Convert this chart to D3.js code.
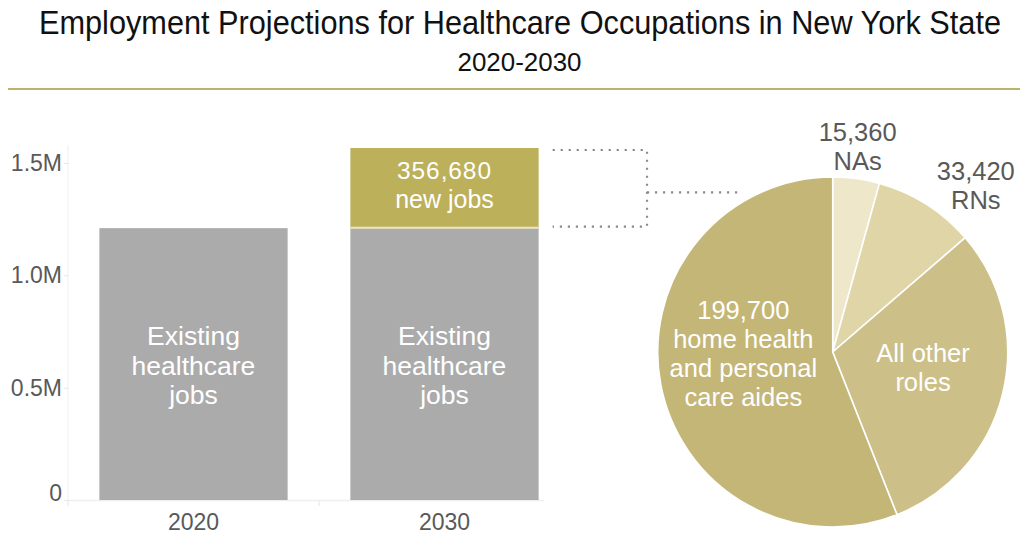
<!DOCTYPE html>
<html>
<head>
<meta charset="utf-8">
<script src="https://cdn.jsdelivr.net/npm/d3@7"></script>
<style>
  html, body { margin: 0; padding: 0; background: #fff; }
  svg { display: block; font-family: "Liberation Sans", Arial, sans-serif; }
</style>
</head>
<body>
<svg id="chart" width="1028" height="535"></svg>
<script>
// ---- Data ----
const years = ["2020", "2030"];
const existingJobs = [1210000, 1210000];
const newJobs = [0, 356680];
const yTicks = [0, 500000, 1000000, 1500000];
const yTickLabels = ["0", "0.5M", "1.0M", "1.5M"];

const roles = ["NAs", "RNs", "All other roles", "home health and personal care aides"];
const roleJobs = [15360, 33420, 108200, 199700];
const roleColors = ["#eee7c9", "#dfd5a6", "#ccbf88", "#c4b677"];

// ---- Layout ----
const svg = d3.select("#chart");
const grayText = "#595959";

// Title block (slightly condensed lettering: tall glyphs, fixed width)
svg.append("g").attr("transform", "translate(520,34) scale(1,1.1)")
  .append("text")
  .attr("x", 0).attr("y", 0).attr("text-anchor", "middle")
  .attr("textLength", 962).attr("lengthAdjust", "spacingAndGlyphs")
  .attr("font-size", 30.5).attr("fill", "#111")
  .text("Employment Projections for Healthcare Occupations in New York State");
svg.append("g").attr("transform", "translate(519.5,71) scale(1,1.1)")
  .append("text")
  .attr("x", 0).attr("y", 0).attr("text-anchor", "middle")
  .attr("textLength", 124).attr("lengthAdjust", "spacingAndGlyphs")
  .attr("font-size", 23).attr("fill", "#111")
  .text("2020-2030");
svg.append("line")
  .attr("x1", 8).attr("x2", 1020).attr("y1", 89).attr("y2", 89)
  .attr("stroke", "#bdb36f").attr("stroke-width", 2);

// ---- Bar chart ----
const x = d3.scaleBand().domain(years).range([68, 570]).paddingInner(0.25).paddingOuter(0.125);
const y = d3.scaleLinear().domain([0, 1500000]).range([500, 163]);

// y axis
svg.append("line")
  .attr("x1", 68).attr("x2", 68).attr("y1", 145).attr("y2", 500)
  .attr("stroke", "#efefef").attr("stroke-width", 1);
const yAxis = svg.append("g")
  .attr("transform", "translate(68,0)")
  .call(d3.axisLeft(y).tickValues(yTicks).tickSize(4).tickPadding(2)
    .tickFormat((d, i) => yTickLabels[i]));
yAxis.select(".domain").remove();
yAxis.selectAll(".tick line").attr("stroke", "#e6e6e6");
yAxis.selectAll(".tick text")
  .attr("font-size", 23).attr("fill", grayText)
  .attr("font-family", "Liberation Sans, Arial, sans-serif")
  .attr("dy", d => d === 0 ? "-0.0em" : "0.32em");

// x axis
svg.append("line")
  .attr("x1", 68).attr("x2", 544).attr("y1", 500.5).attr("y2", 500.5)
  .attr("stroke", "#eeeeee").attr("stroke-width", 1.5);
years.forEach((yr, i) => {
  const edge = x(yr) - x.step() * x.paddingInner() / 2 - (i === 0 ? x.step() * (x.paddingOuter() - x.paddingInner() / 2) : 0);
  svg.append("line")
    .attr("x1", edge).attr("x2", edge).attr("y1", 501).attr("y2", 506)
    .attr("stroke", "#e6e6e6");
  svg.append("text")
    .attr("x", x(yr) + x.bandwidth() / 2).attr("y", 530)
    .attr("text-anchor", "middle").attr("font-size", 23).attr("fill", grayText)
    .text(yr);
});

// existing jobs bars
svg.selectAll("rect.existing").data(years).join("rect")
  .attr("class", "existing")
  .attr("x", d => x(d)).attr("width", x.bandwidth())
  .attr("y", (d, i) => y(existingJobs[i]))
  .attr("height", (d, i) => y(0) - y(existingJobs[i]))
  .attr("fill", "#ababab");

// new jobs stacked on top
svg.selectAll("rect.added").data(years.filter((d, i) => newJobs[i] > 0)).join("rect")
  .attr("class", "added")
  .attr("x", d => x(d)).attr("width", x.bandwidth())
  .attr("y", d => { const i = years.indexOf(d); return y(existingJobs[i] + newJobs[i]); })
  .attr("height", d => { const i = years.indexOf(d); return y(existingJobs[i]) - y(existingJobs[i] + newJobs[i]); })
  .attr("fill", "#bcb05a");
years.forEach((yr, i) => {
  if (newJobs[i] > 0) {
    svg.append("line")
      .attr("x1", x(yr)).attr("x2", x(yr) + x.bandwidth())
      .attr("y1", y(existingJobs[i]) - 0.5).attr("y2", y(existingJobs[i]) - 0.5)
      .attr("stroke", "#ebe5c6").attr("stroke-width", 2);
  }
});

// bar labels
function multiline(cx, baselines, lines, size, fill, spacing) {
  const t = svg.append("text").attr("text-anchor", "middle").attr("fill", fill).attr("font-size", size);
  lines.forEach((ln, k) => {
    t.append("tspan").attr("x", cx).attr("y", baselines[k]).attr("letter-spacing", spacing || 0).text(ln);
  });
  return t;
}
years.forEach((yr, i) => {
  const cx = x(yr) + x.bandwidth() / 2;
  const mid = (y(existingJobs[i]) + y(0)) / 2;
  multiline(cx, [mid - 19, mid + 10.5, mid + 40], ["Existing", "healthcare", "jobs"], 26.5, "#fff");
  if (newJobs[i] > 0) {
    const top = y(existingJobs[i] + newJobs[i]);
    const t = svg.append("text").attr("text-anchor", "middle").attr("fill", "#fff");
    t.append("tspan").attr("x", cx).attr("y", top + 31).attr("font-size", 24.5).attr("letter-spacing", 0.9)
      .text(d3.format(",")(newJobs[i]));
    t.append("tspan").attr("x", cx).attr("y", top + 60).attr("font-size", 25).text("new jobs");
  }
});

// ---- Dotted connector from the new-jobs segment to the pie ----
const gTop = y(existingJobs[1] + newJobs[1]) + 2;
const gBot = y(existingJobs[1]) - 1.5;
const cx0 = x("2030") + x.bandwidth() + 14;
const cx1 = 647;
const dotStyle = sel => sel.attr("stroke", "#8a8a8a").attr("stroke-width", 2.2)
  .attr("stroke-dasharray", "2.2 5.8").attr("fill", "none");
svg.append("path").attr("d", `M${cx0},${gTop}H${cx1}V${gBot}H${cx0}`).call(dotStyle);
svg.append("path").attr("d", `M${cx1},${(gTop + gBot) / 2 + 4}H${740}`).call(dotStyle);

// ---- Pie of new jobs by role ----
const pcx = 832.7, pcy = 352, R = 175;
const pie = d3.pie().sort(null).value(d => d)(roleJobs);
const arc = d3.arc().innerRadius(0).outerRadius(R);
const pg = svg.append("g").attr("transform", `translate(${pcx},${pcy})`);
pg.selectAll("path").data(pie).join("path")
  .attr("d", arc)
  .attr("fill", (d, i) => roleColors[i])
  .attr("stroke", "#fff").attr("stroke-width", 1.6);

// pie labels: anchored to each slice's centroid at a chosen radius, then nudged
const labelArc = r => d3.arc().innerRadius(r).outerRadius(r);
const fmt = d3.format(",");
const labelSpec = [
  { r: 200, dx: -2, dy: 0, lines: [fmt(roleJobs[0]), "NAs"], fill: grayText, base: -13 },
  { r: 215, dx: 28, dy: 23, lines: [fmt(roleJobs[1]), "RNs"], fill: grayText, base: -13 },
  { r: 92, dx: 1, dy: -22, lines: ["All other", "roles"], fill: "#fff", base: 9.7 },
  { r: 92, dx: 1, dy: -26, lines: [fmt(roleJobs[3]), "home health", "and personal", "care aides"], fill: "#fff", base: -24 }
];
pie.forEach((p, i) => {
  const s = labelSpec[i];
  const [lx, ly] = labelArc(s.r).centroid(p);
  const cx = pcx + lx + s.dx, cy = pcy + ly + s.dy;
  const step = 29;
  const baselines = s.lines.map((_, k) => cy + s.base + k * step);
  multiline(cx, baselines, s.lines, 25.5, s.fill);
});
</script>
</body>
</html>
